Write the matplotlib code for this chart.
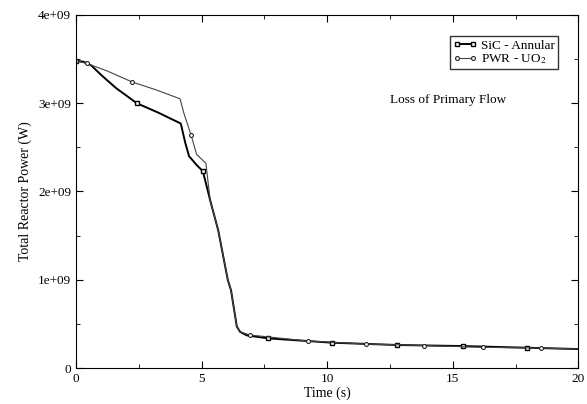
import matplotlib
matplotlib.use("Agg")
import matplotlib.pyplot as plt
from matplotlib.ticker import MultipleLocator, FuncFormatter

# SiC - Annular (time in s, power in W)
sic_t = [0, 0.3, 0.6, 1.0, 1.6, 2.42, 3.3, 4.17, 4.35, 4.5, 4.8, 5.05, 5.34, 5.66, 6.04, 6.17, 6.4,
         6.53, 6.8, 7.66, 10.2, 12.78, 15.39, 17.96, 20]
sic_p = [3.48e9, 3.47e9, 3.43e9, 3.32e9, 3.17e9, 3.0e9, 2.89e9, 2.77e9, 2.55e9, 2.4e9, 2.3e9, 2.23e9,
         1.9e9, 1.56e9, 1.0e9, 0.88e9, 0.47e9, 0.41e9, 0.37e9, 0.336e9, 0.287e9, 0.261e9, 0.249e9,
         0.23e9, 0.215e9]
sic_marks = [0, 5, 11, 19, 20, 21, 22, 23]

# PWR - UO2
pwr_t = [0, 0.43, 1.2, 2.24, 3.2, 4.14, 4.3, 4.58, 4.8, 5.17, 5.34, 5.66, 6.04, 6.17, 6.4, 6.53,
         6.93, 9.22, 11.54, 13.84, 16.19, 18.5, 20]
pwr_p = [3.48e9, 3.45e9, 3.37e9, 3.24e9, 3.15e9, 3.05e9, 2.88e9, 2.64e9, 2.42e9, 2.32e9, 1.9e9, 1.56e9,
         1.0e9, 0.88e9, 0.47e9, 0.41e9, 0.374e9, 0.306e9, 0.272e9, 0.255e9, 0.235e9, 0.227e9, 0.215e9]
pwr_marks = [0, 1, 3, 7, 16, 17, 18, 19, 20, 21]

plt.rcParams['font.family'] = ['Liberation Serif', 'DejaVu Serif']
plt.rcParams['mathtext.fontset'] = 'stix'

fig = plt.figure(figsize=(5.87, 4.04), dpi=100)
ax = fig.add_axes([0.1295, 0.089, 0.856, 0.874])

ax.plot(sic_t, sic_p, color='black', lw=1.4, marker='s', ms=3.5, mfc='white', mec='black',
        mew=1.0, markevery=sic_marks, label='SiC - Annular')
ax.plot(pwr_t, pwr_p, color='#444444', lw=0.8, marker='o', ms=2.8, mfc='white', mec='#222222',
        mew=0.8, markevery=pwr_marks, label='PWR - UO$_2$')

ax.set_xlim(0, 20)
ax.set_ylim(0, 4e9)
ax.xaxis.set_major_locator(MultipleLocator(5))
ax.xaxis.set_minor_locator(MultipleLocator(2.5))
ax.yaxis.set_major_locator(MultipleLocator(1e9))
ax.yaxis.set_minor_locator(MultipleLocator(0.5e9))
ax.yaxis.set_major_formatter(FuncFormatter(lambda v, p: '0' if v == 0 else '%de+09' % round(v / 1e9)))
ax.tick_params(which='both', direction='in', top=True, right=True, labelsize=9.5)
ax.tick_params(which='major', length=5)
ax.tick_params(which='minor', length=3)

ax.set_xlabel('Time (s)', fontsize=10, labelpad=1)
ax.set_ylabel('Total Reactor Power (W)', fontsize=10)
ax.text(14.8, 3.04e9, 'Loss of Primary Flow', fontsize=9.5, ha='center', va='center')

leg = ax.legend(loc='upper right', bbox_to_anchor=(0.96, 0.94), fontsize=9.5, frameon=True,
                fancybox=False, edgecolor='black', handlelength=1.8, numpoints=2, borderpad=0.25,
                labelspacing=0.05, handletextpad=0.3, borderaxespad=0)
leg.get_frame().set_linewidth(1.0)

fig.savefig('out.png', dpi=100)
